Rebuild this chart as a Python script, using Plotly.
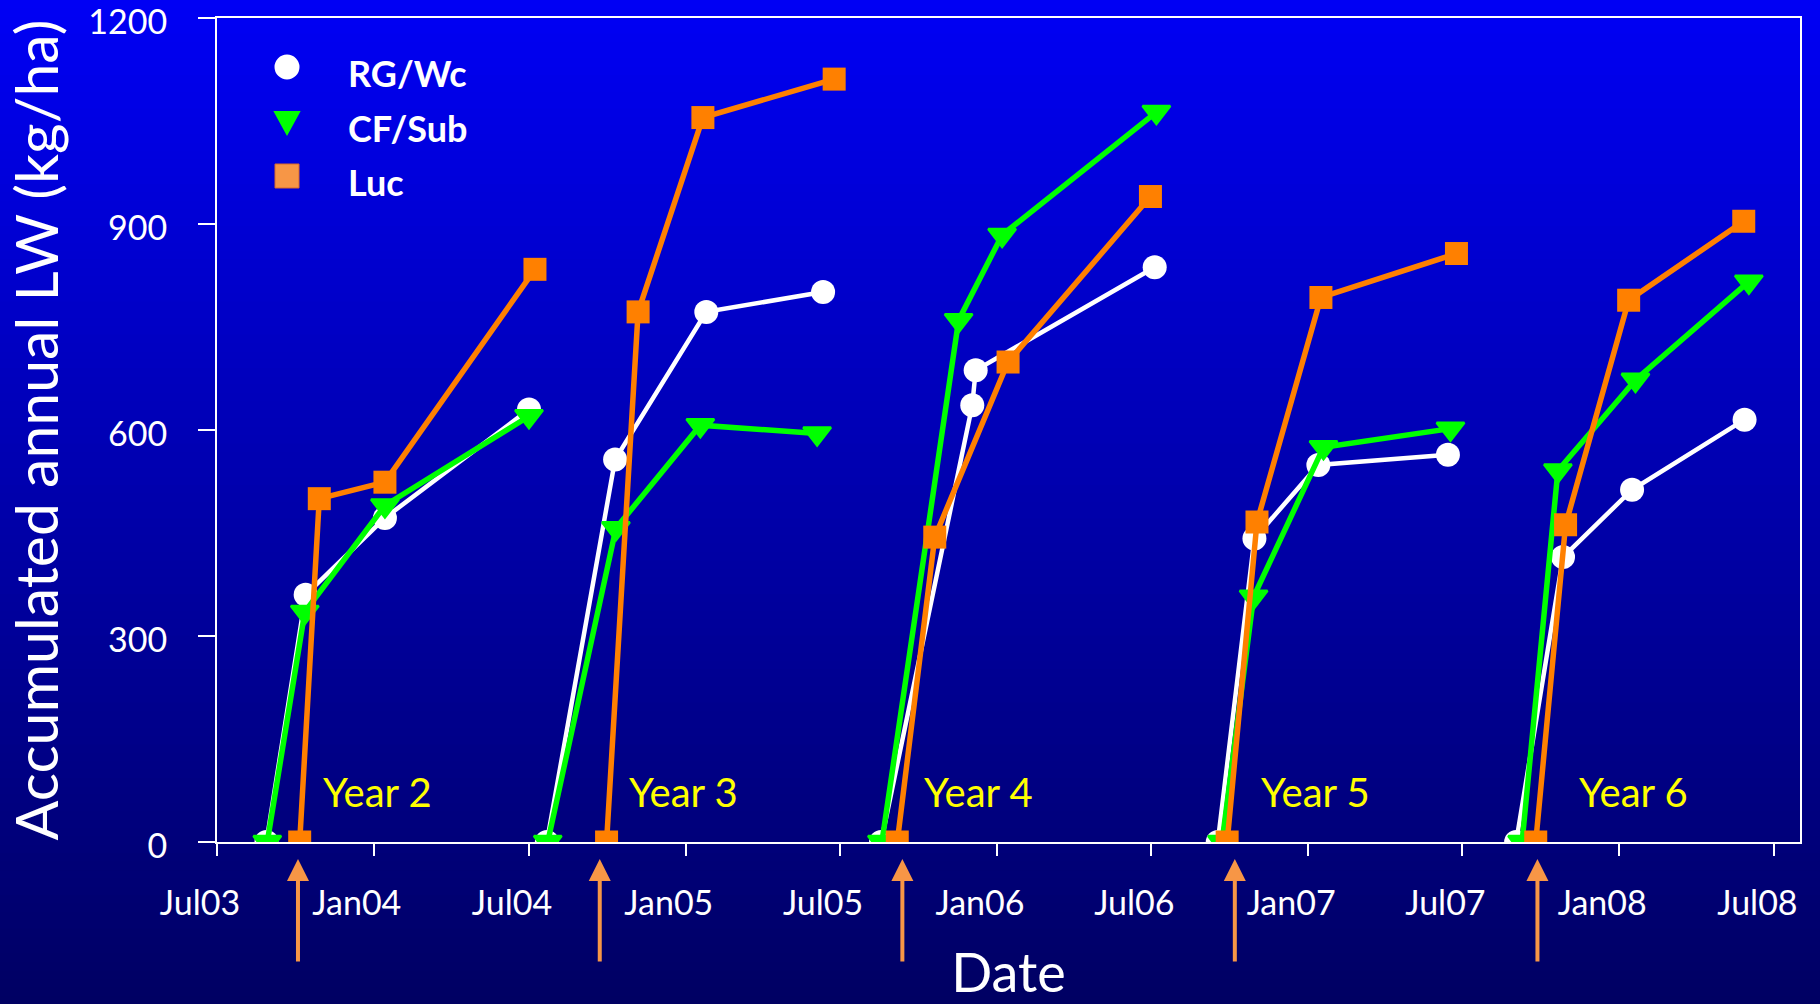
import plotly.graph_objects as go

# ---------------------------------------------------------------
# Accumulated annual liveweight gain (kg/ha), one inner list per
# grazing year (Year 2 ... Year 6)
# ---------------------------------------------------------------
year_labels = ["Year 2", "Year 3", "Year 4", "Year 5", "Year 6"]
year_label_dates = ["2004-01-05", "2004-12-29", "2005-12-10", "2007-01-10", "2008-01-18"]

rg_dates = [
    ["2003-08-28", "2003-10-13", "2004-01-14", "2004-07-01"],
    ["2004-07-22", "2004-10-10", "2005-01-25", "2005-06-11"],
    ["2005-08-18", "2005-12-03", "2005-12-07", "2006-07-05"],
    ["2006-09-17", "2006-10-30", "2007-01-13", "2007-06-14"],
    ["2007-09-02", "2007-10-27", "2008-01-16", "2008-05-27"],
]
rg_values = [
    [0, 360, 472, 630],
    [0, 557, 772, 801],
    [0, 636, 687, 837],
    [0, 442, 549, 564],
    [0, 415, 513, 615],
]

cf_dates = [
    ["2003-08-29", "2003-10-12", "2004-01-14", "2004-07-01"],
    ["2004-07-23", "2004-10-11", "2005-01-18", "2005-06-04"],
    ["2005-08-19", "2005-11-17", "2006-01-07", "2006-07-07"],
    ["2006-09-22", "2006-10-29", "2007-01-19", "2007-06-17"],
    ["2007-09-09", "2007-10-21", "2008-01-20", "2008-06-01"],
]
cf_values = [
    [0, 335, 490, 620],
    [0, 457, 607, 595],
    [0, 760, 884, 1063],
    [0, 357, 575, 602],
    [0, 541, 673, 816],
]

luc_dates = [
    ["2003-10-06", "2003-10-29", "2004-01-14", "2004-07-08"],
    ["2004-09-30", "2004-11-06", "2005-01-21", "2005-06-24"],
    ["2005-09-06", "2005-10-20", "2006-01-14", "2006-06-30"],
    ["2006-09-28", "2006-11-02", "2007-01-16", "2007-06-24"],
    ["2007-09-25", "2007-10-30", "2008-01-12", "2008-05-26"],
]
luc_values = [
    [0, 500, 524, 834],
    [0, 772, 1055, 1111],
    [0, 444, 699, 940],
    [0, 466, 793, 857],
    [0, 462, 789, 904],
]

# Start of lucerne grazing each year (arrows under the date axis)
arrow_dates = ["2003-10-04", "2004-09-22", "2005-09-12", "2006-10-07", "2007-09-27"]

series_names = ["RG/Wc", "CF/Sub", "Luc"]
y_ticks = [0, 300, 600, 900, 1200]

FONT = "Lato"
WHITE = "#FFFFFF"
GREEN = "#00FF00"
ORANGE = "#FF8000"
ARROW_ORANGE = "#F79646"
YELLOW = "#FFFF00"

W, H = 1820, 1004
M_L, M_R, M_T, M_B = 217, 20, 18, 162
PLOT_W = W - M_L - M_R
PLOT_H = H - M_T - M_B

TOP_RGB = (0, 0, 245)
BOT_RGB = (0, 0, 98)


def px_to_paper_y(p):
    return (H - M_B - p) / PLOT_H


def px_to_paper_x(p):
    return (p - M_L) / PLOT_W


def join_segments(date_lists, value_lists):
    """Concatenate yearly segments, separated by gaps so years stay unjoined."""
    xs, ys = [], []
    for i, (d, v) in enumerate(zip(date_lists, value_lists)):
        if i:
            xs.append(None)
            ys.append(None)
        xs.extend(d)
        ys.extend(v)
    return xs, ys


fig = go.Figure()

trace_specs = [
    (rg_dates, rg_values, series_names[0], WHITE, 4.5, dict(symbol="circle", size=24, color=WHITE)),
    (cf_dates, cf_values, series_names[1], GREEN, 5.5,
     dict(symbol="triangle-down", size=24, color=GREEN, line=dict(color=GREEN, width=2.5))),
    (luc_dates, luc_values, series_names[2], ORANGE, 5.5, dict(symbol="square", size=23, color=ORANGE)),
]
for dates, vals, name, col, lw, marker in trace_specs:
    xs, ys = join_segments(dates, vals)
    fig.add_trace(go.Scatter(
        x=xs, y=ys, name=name, mode="lines+markers",
        line=dict(color=col, width=lw), marker=marker,
        connectgaps=False, showlegend=False,
    ))

shapes = []

# Vertical blue gradient behind the whole figure
n_bands = 120
for i in range(n_bands):
    p0 = H * i / n_bands
    p1 = H * (i + 1) / n_bands + 1
    t = (i + 0.5) / n_bands
    c = tuple(round(a + (b - a) * t) for a, b in zip(TOP_RGB, BOT_RGB))
    shapes.append(dict(
        type="rect", xref="paper", yref="paper", layer="below",
        x0=px_to_paper_x(-2), x1=px_to_paper_x(W + 2),
        y0=px_to_paper_y(p1), y1=px_to_paper_y(p0 - (2 if i == 0 else 0)),
        fillcolor=f"rgb{c}", line=dict(width=0),
    ))

# Legend symbols
leg_x = px_to_paper_x(287)
leg_rows = [67, 122, 176]
shapes.append(dict(
    type="circle", xref="paper", yref="paper", xsizemode="pixel", ysizemode="pixel",
    xanchor=leg_x, yanchor=px_to_paper_y(leg_rows[0]),
    x0=-12.5, x1=12.5, y0=-12.5, y1=12.5,
    fillcolor=WHITE, line=dict(width=0),
))
shapes.append(dict(
    type="path", xref="paper", yref="paper", xsizemode="pixel", ysizemode="pixel",
    xanchor=leg_x, yanchor=px_to_paper_y(leg_rows[1]),
    path="M -12,10 L 12,10 L 0,-12 Z",
    fillcolor=GREEN, line=dict(color=GREEN, width=2),
))
shapes.append(dict(
    type="rect", xref="paper", yref="paper", xsizemode="pixel", ysizemode="pixel",
    xanchor=leg_x, yanchor=px_to_paper_y(leg_rows[2]),
    x0=-12, x1=12, y0=-12, y1=12,
    fillcolor=ARROW_ORANGE, line=dict(color="#D86A2A", width=1),
))

annotations = []
for name, row in zip(series_names, leg_rows):
    annotations.append(dict(
        text=f"<b>{name}</b>", xref="paper", yref="paper",
        x=px_to_paper_x(346), y=px_to_paper_y(row + 6),
        xanchor="left", yanchor="middle", showarrow=False,
        font=dict(family=FONT, size=36, color=WHITE),
    ))

# Year labels along the bottom of the plot
for lbl, d in zip(year_labels, year_label_dates):
    annotations.append(dict(
        text=lbl, x=d, y=73, xref="x", yref="y",
        xanchor="center", yanchor="middle", showarrow=False,
        font=dict(family=FONT, size=40, color=YELLOW),
    ))

# Arrows marking the start of lucerne grazing
for d in arrow_dates:
    annotations.append(dict(
        text="", x=d, y=px_to_paper_y(859), xref="x", yref="paper",
        showarrow=True, ax=0, ay=104, axref="pixel", ayref="pixel",
        arrowhead=2, arrowsize=1.1, arrowwidth=4, arrowcolor=ARROW_ORANGE,
    ))

fig.update_layout(
    width=W, height=H,
    margin=dict(l=M_L, r=M_R, t=M_T, b=M_B, pad=0, autoexpand=False),
    paper_bgcolor="rgb(0,0,150)", plot_bgcolor="rgba(0,0,0,0)",
    font=dict(family=FONT, color=WHITE),
    showlegend=False,
    shapes=shapes, annotations=annotations,
    xaxis=dict(
        type="date", range=["2003-07-01", "2008-07-31"],
        tick0="2003-07-01", dtick="M6", tickformat="%b%y",
        showline=True, linecolor=WHITE, linewidth=2, mirror=True,
        ticks="outside", ticklen=12, tickwidth=2, tickcolor=WHITE,
        showgrid=False, zeroline=False, automargin=False,
        tickfont=dict(family=FONT, size=34, color=WHITE),
        ticklabelstandoff=18, ticklabelshift=-17,
        title=dict(text="Date", font=dict(family=FONT, size=54, color=WHITE), standoff=40),
    ),
    yaxis=dict(
        range=[0, 1200], tickvals=y_ticks,
        showline=True, linecolor=WHITE, linewidth=2, mirror=True,
        ticks="outside", ticklen=17, tickwidth=2, tickcolor=WHITE,
        showgrid=False, zeroline=False, automargin=False,
        tickfont=dict(family=FONT, size=34, color=WHITE),
        ticklabelstandoff=24, ticklabelshift=4, ticklabeloverflow="allow",
        title=dict(text="Accumulated annual LW (kg/ha)",
                   font=dict(family=FONT, size=59, color=WHITE), standoff=20),
    ),
)

fig.write_html("out.html", post_script="document.body.style.margin='0';")
